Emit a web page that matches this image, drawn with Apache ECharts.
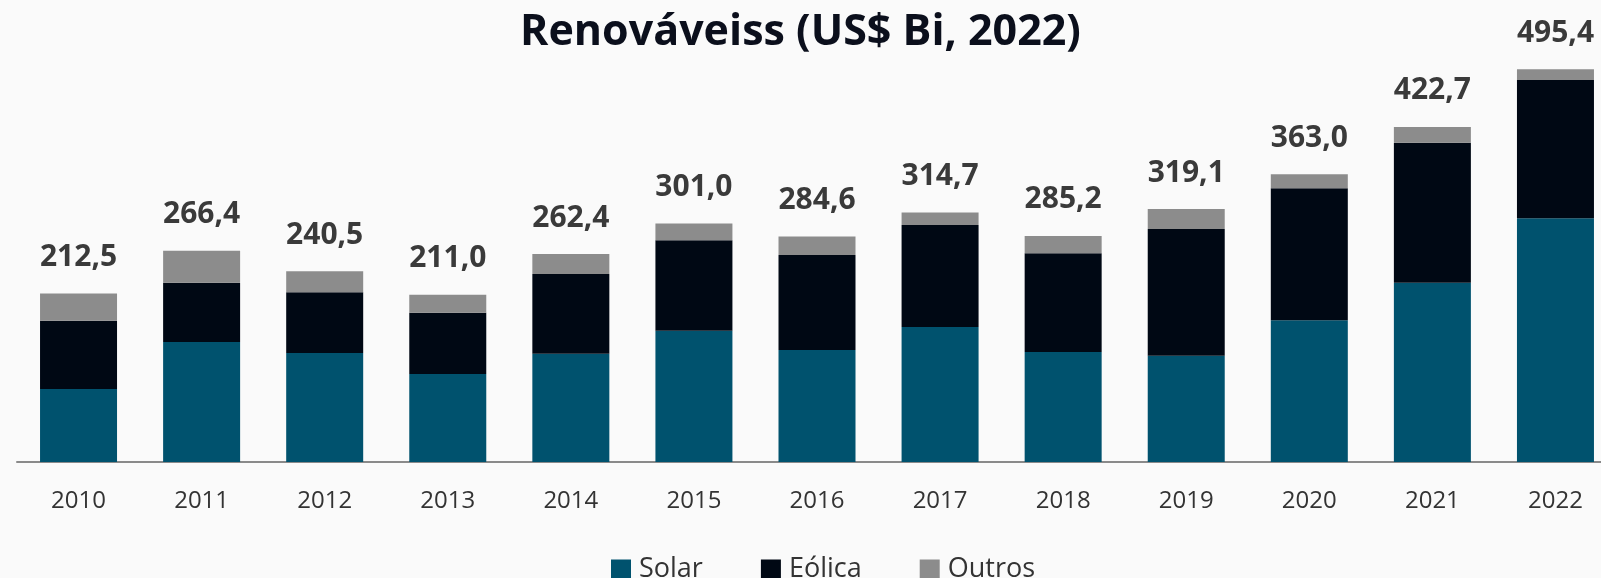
<!DOCTYPE html>
<html>
<head>
<meta charset="utf-8">
<script src="https://cdn.jsdelivr.net/npm/echarts@6/dist/echarts.min.js"></script>
<style>
  html, body { margin: 0; padding: 0; background: #fafafa; }
  #chart { width: 1601px; height: 578px; }
</style>
</head>
<body>
<div id="chart"></div>
<script>
// dados (US$ bi)
var years = ['2010', '2011', '2012', '2013', '2014', '2015', '2016', '2017', '2018', '2019', '2020', '2021', '2022'];
var solar = [92.1, 151.4, 137.5, 111.0, 136.6, 165.7, 141.3, 170.3, 138.8, 134.1, 178.7, 226.2, 307.4];
var eolica = [86.2, 74.8, 76.6, 77.4, 100.5, 114.0, 119.8, 128.7, 124.5, 159.8, 166.5, 176.6, 174.5];
var outros = [34.2, 40.2, 26.4, 22.6, 25.3, 21.3, 23.5, 15.7, 21.9, 25.2, 17.8, 19.9, 13.5];
var totais = [212.5, 266.4, 240.5, 211.0, 262.4, 301.0, 284.6, 314.7, 285.2, 319.1, 363.0, 422.7, 495.4];

var font = "'Open Sans', 'Noto Sans', sans-serif";

var myChart = echarts.init(document.getElementById('chart'));
myChart.setOption({
    backgroundColor: '#fafafa',
    animation: false,
    title: {
        text: 'Renováveiss (US$ Bi, 2022)',
        left: 'center',
        top: 11,
        padding: 0,
        textStyle: {
            fontFamily: font,
            fontWeight: 'bold',
            fontSize: 43,
            color: '#0b0f1c'
        }
    },
    legend: {
        left: 611,
        top: 556,
        padding: 0,
        itemWidth: 20,
        itemHeight: 20,
        itemGap: 58,
        icon: 'rect',
        data: ['Solar', 'Eólica', 'Outros'],
        textStyle: {
            fontFamily: font,
            fontSize: 27,
            color: '#333333',
            padding: [0, 0, 0, 3]
        }
    },
    grid: {
        left: 17,
        width: 1600,
        top: 65.65,
        bottom: 116,
        containLabel: false,
        outerBoundsMode: 'none'
    },
    xAxis: {
        type: 'category',
        data: years,
        axisLine: { lineStyle: { color: '#8a8a8a', width: 2 } },
        axisTick: { show: false },
        axisLabel: {
            fontFamily: font,
            fontSize: 24,
            color: '#333333',
            margin: 27
        }
    },
    yAxis: {
        type: 'value',
        min: 0,
        max: 500,
        show: false,
        splitLine: { show: false }
    },
    series: [
        {
            name: 'Solar',
            type: 'bar',
            stack: 'total',
            barWidth: 77,
            itemStyle: { color: '#00526e' },
            data: solar
        },
        {
            name: 'Eólica',
            type: 'bar',
            stack: 'total',
            barWidth: 77,
            itemStyle: { color: '#000814' },
            data: eolica
        },
        {
            name: 'Outros',
            type: 'bar',
            stack: 'total',
            barWidth: 77,
            itemStyle: { color: '#8c8c8c' },
            label: {
                show: true,
                position: 'top',
                distance: 21,
                fontFamily: font,
                fontWeight: 'bold',
                fontSize: 30,
                color: '#3a3a3a',
                formatter: function (p) {
                    return totais[p.dataIndex].toFixed(1).replace('.', ',');
                }
            },
            data: outros
        }
    ]
});
</script>
</body>
</html>
